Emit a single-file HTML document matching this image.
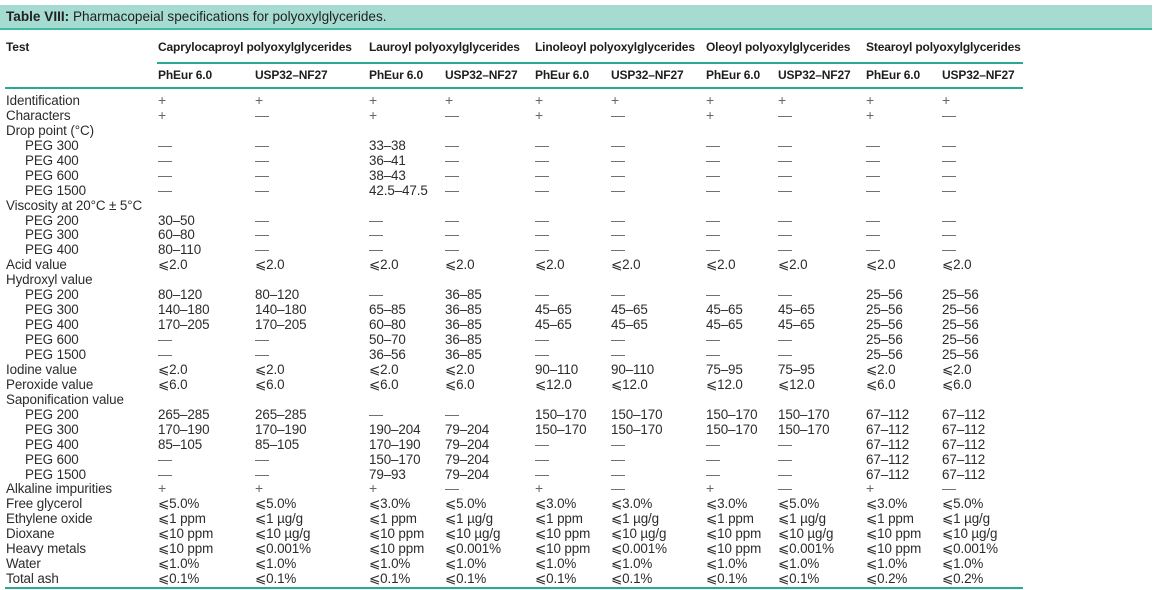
<!DOCTYPE html>
<html><head><meta charset="utf-8">
<style>
body{margin:0;width:1154px;height:590px;background:#fff;position:relative;overflow:hidden;font-family:"Liberation Sans",sans-serif;color:#2b2b2b}
.abs{position:absolute;white-space:nowrap}
.bar{left:0;top:5px;width:1152px;height:23px;background:#a6dbd2;border-bottom:2px solid #3dbba6}
.title{left:6px;top:8px;font-size:13.6px;line-height:18px;color:#222}
.h{font-weight:bold;font-size:12px;line-height:15px;color:#1e1e1e;letter-spacing:-0.15px}
.ln{height:2px;background:#2aa891}
.c{font-size:13.4px;line-height:15px;letter-spacing:-0.1px}
.s{color:#666;font-size:14px}
</style></head><body>
<div class="abs bar"></div>
<div class="abs title"><b>Table VIII:</b> Pharmacopeial specifications for polyoxylglycerides.</div>
<div class="abs h" style="left:6px;top:40px">Test</div>
<div class="abs h" style="left:158px;top:40px">Caprylocaproyl polyoxylglycerides</div>
<div class="abs h" style="left:369px;top:40px">Lauroyl polyoxylglycerides</div>
<div class="abs h" style="left:535px;top:40px">Linoleoyl polyoxylglycerides</div>
<div class="abs h" style="left:706px;top:40px">Oleoyl polyoxylglycerides</div>
<div class="abs h" style="left:866px;top:40px">Stearoyl polyoxylglycerides</div>
<div class="abs ln" style="left:157px;top:62px;width:866px"></div>
<div class="abs ln" style="left:5px;top:87px;width:1018px"></div>
<div class="abs ln" style="left:5px;top:587px;width:1018px"></div>
<div id="t"></div>
<script>
const colX=[158,255,369,445,535,611,706,778,866,942];
const subHeads=["PhEur 6.0","USP32–NF27","PhEur 6.0","USP32–NF27","PhEur 6.0","USP32–NF27","PhEur 6.0","USP32–NF27","PhEur 6.0","USP32–NF27"];
const D="—",P="+";
const L=v=>"⩽"+v;
const rows=[
["Identification",0,[P,P,P,P,P,P,P,P,P,P]],
["Characters",0,[P,D,P,D,P,D,P,D,P,D]],
["Drop point (°C)",0,[]],
["PEG 300",1,[D,D,"33–38",D,D,D,D,D,D,D]],
["PEG 400",1,[D,D,"36–41",D,D,D,D,D,D,D]],
["PEG 600",1,[D,D,"38–43",D,D,D,D,D,D,D]],
["PEG 1500",1,[D,D,"42.5–47.5",D,D,D,D,D,D,D]],
["Viscosity at 20°C ± 5°C",0,[]],
["PEG 200",1,["30–50",D,D,D,D,D,D,D,D,D]],
["PEG 300",1,["60–80",D,D,D,D,D,D,D,D,D]],
["PEG 400",1,["80–110",D,D,D,D,D,D,D,D,D]],
["Acid value",0,Array(10).fill(L("2.0"))],
["Hydroxyl value",0,[]],
["PEG 200",1,["80–120","80–120",D,"36–85",D,D,D,D,"25–56","25–56"]],
["PEG 300",1,["140–180","140–180","65–85","36–85","45–65","45–65","45–65","45–65","25–56","25–56"]],
["PEG 400",1,["170–205","170–205","60–80","36–85","45–65","45–65","45–65","45–65","25–56","25–56"]],
["PEG 600",1,[D,D,"50–70","36–85",D,D,D,D,"25–56","25–56"]],
["PEG 1500",1,[D,D,"36–56","36–85",D,D,D,D,"25–56","25–56"]],
["Iodine value",0,[L("2.0"),L("2.0"),L("2.0"),L("2.0"),"90–110","90–110","75–95","75–95",L("2.0"),L("2.0")]],
["Peroxide value",0,[L("6.0"),L("6.0"),L("6.0"),L("6.0"),L("12.0"),L("12.0"),L("12.0"),L("12.0"),L("6.0"),L("6.0")]],
["Saponification value",0,[]],
["PEG 200",1,["265–285","265–285",D,D,"150–170","150–170","150–170","150–170","67–112","67–112"]],
["PEG 300",1,["170–190","170–190","190–204","79–204","150–170","150–170","150–170","150–170","67–112","67–112"]],
["PEG 400",1,["85–105","85–105","170–190","79–204",D,D,D,D,"67–112","67–112"]],
["PEG 600",1,[D,D,"150–170","79–204",D,D,D,D,"67–112","67–112"]],
["PEG 1500",1,[D,D,"79–93","79–204",D,D,D,D,"67–112","67–112"]],
["Alkaline impurities",0,[P,P,P,D,P,D,P,D,P,D]],
["Free glycerol",0,[L("5.0%"),L("5.0%"),L("3.0%"),L("5.0%"),L("3.0%"),L("3.0%"),L("3.0%"),L("5.0%"),L("3.0%"),L("5.0%")]],
["Ethylene oxide",0,[L("1 ppm"),L("1 µg/g"),L("1 ppm"),L("1 µg/g"),L("1 ppm"),L("1 µg/g"),L("1 ppm"),L("1 µg/g"),L("1 ppm"),L("1 µg/g")]],
["Dioxane",0,[L("10 ppm"),L("10 µg/g"),L("10 ppm"),L("10 µg/g"),L("10 ppm"),L("10 µg/g"),L("10 ppm"),L("10 µg/g"),L("10 ppm"),L("10 µg/g")]],
["Heavy metals",0,[L("10 ppm"),L("0.001%"),L("10 ppm"),L("0.001%"),L("10 ppm"),L("0.001%"),L("10 ppm"),L("0.001%"),L("10 ppm"),L("0.001%")]],
["Water",0,Array(10).fill(L("1.0%"))],
["Total ash",0,[L("0.1%"),L("0.1%"),L("0.1%"),L("0.1%"),L("0.1%"),L("0.1%"),L("0.1%"),L("0.1%"),L("0.2%"),L("0.2%")]]
];
const t=document.getElementById('t');
subHeads.forEach((s,i)=>{
  const d=document.createElement('div');
  d.className='abs h';d.style.left=colX[i]+'px';d.style.top='68px';d.textContent=s;
  
  
  t.appendChild(d);
});
rows.forEach((r,ri)=>{
  const y=93+ri*14.94;
  const lab=document.createElement('div');
  lab.className='abs c';lab.style.left=(r[1]?25:6)+'px';lab.style.top=y+'px';lab.textContent=r[0];
  
  
  t.appendChild(lab);
  r[2].forEach((v,ci)=>{
    const d=document.createElement('div');
    d.className='abs c'+((v===P||v===D)?' s':'');
    d.style.left=colX[ci]+'px';d.style.top=y+'px';d.textContent=v;
    
    
    t.appendChild(d);
  });
});
</script>
</body></html>
